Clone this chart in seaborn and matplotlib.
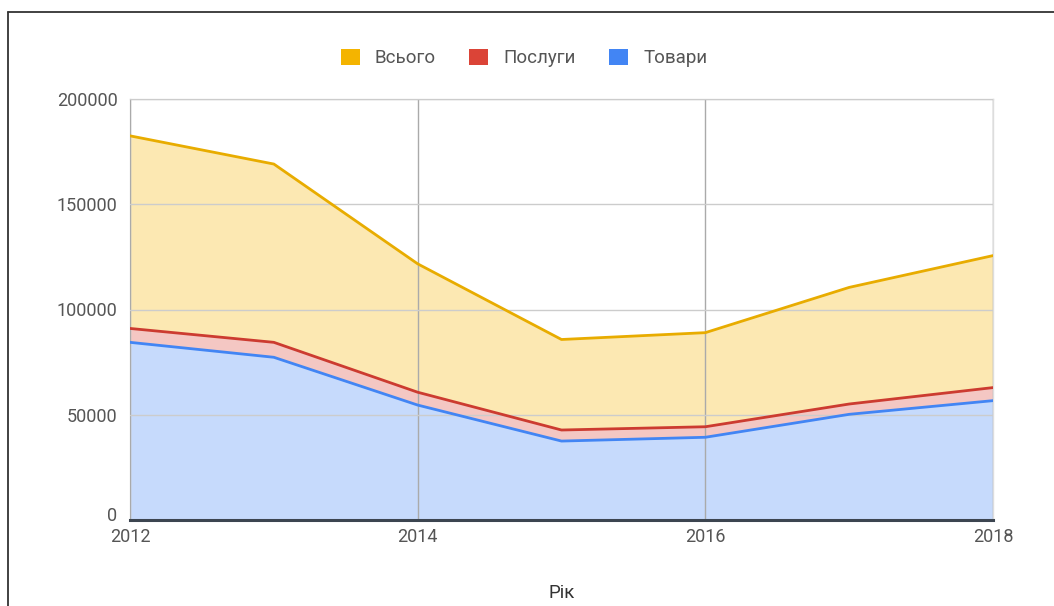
import matplotlib
matplotlib.use("Agg")
import matplotlib.pyplot as plt
import matplotlib.transforms as mtransforms
import seaborn as sns
import pandas as pd
from matplotlib.lines import Line2D
from matplotlib.patches import Patch

years = [2012, 2013, 2014, 2015, 2016, 2017, 2018]
tovary = [84400, 77300, 54600, 37500, 39300, 50200, 56700]
posluhy = [6600, 7100, 6100, 5250, 5000, 4900, 6200]
vsoho = [91500, 84700, 61000, 43000, 44700, 55400, 62700]
series_names = ["Всього", "Послуги", "Товари"]
x_ticks = [2012, 2014, 2016, 2018]
y_ticks = [0, 50000, 100000, 150000, 200000]

sns.set_theme(style="white")
plt.rcParams['font.family'] = ['Roboto', 'DejaVu Sans']

line_col = {"Товари": "#4285F4", "Послуги": "#DB4437", "Всього": "#F4B400"}
fill_col = {"Товари": "#C6DAFC", "Послуги": "#F4C7C3", "Всього": "#FCE8B2"}

df = pd.DataFrame({"Рік": years, "Товари": tovary, "Послуги": posluhy, "Всього": vsoho})
df["b1"] = df["Товари"]
df["b2"] = df["b1"] + df["Послуги"]
df["b3"] = df["b2"] + df["Всього"]

fig = plt.figure(figsize=(10.54, 6.06), dpi=100)
ax = fig.add_axes([130/1054, 1-520/606, 863/1054, 421/606])

ax.fill_between(df["Рік"], 0, df["b1"], color=fill_col["Товари"], lw=0, zorder=1)
ax.fill_between(df["Рік"], df["b1"], df["b2"], color=fill_col["Послуги"], lw=0, zorder=1)
ax.fill_between(df["Рік"], df["b2"], df["b3"], color=fill_col["Всього"], lw=0, zorder=1)

sns.lineplot(x="Рік", y="b1", data=df, color=line_col["Товари"], lw=2, ax=ax, zorder=3)
sns.lineplot(x="Рік", y="b2", data=df, color="#CC3B30", lw=2, ax=ax, zorder=3)
sns.lineplot(x="Рік", y="b3", data=df, color="#E8AC00", lw=2, ax=ax, zorder=3)

ax.set_xlim(2012, 2018)
ax.set_ylim(0, 200000)
ax.set_xticks(x_ticks)
ax.set_yticks(y_ticks)
ax.set_xticklabels([str(v) for v in x_ticks])
ax.set_yticklabels([str(v) for v in y_ticks])
ax.grid(axis="y", color="#cccccc", lw=1, zorder=2)
ax.grid(axis="x", color="#aaaaaa", lw=1, zorder=2)
ax.set_axisbelow(False)
for s in ["left", "right", "top"]:
    ax.spines[s].set_color("#dddddd")
    ax.spines[s].set_linewidth(1)
ax.spines["bottom"].set_color("#3c4550")
ax.spines["bottom"].set_linewidth(2.2)
ax.spines["bottom"].set_zorder(4)
ax.tick_params(axis="both", length=0, labelsize=13, labelcolor="#555555")
ax.tick_params(axis="y", pad=9)
ax.tick_params(axis="x", pad=6)
ylabels = ax.get_yticklabels()
ylabels[0].set_transform(ylabels[0].get_transform() +
                         mtransforms.ScaledTranslation(0, 4/72, fig.dpi_scale_trans))
ax.set_ylabel("")
ax.set_xlabel("Рік", fontsize=13.5, color="#333333", labelpad=27)

handles = [Patch(facecolor=line_col[n], edgecolor="none") for n in series_names]
fig.legend(handles, series_names, loc="center", bbox_to_anchor=(524/1054, 1-58/606),
           ncol=3, frameon=False, fontsize=13.5, handlelength=1.0, handleheight=1.0,
           columnspacing=1.8, handletextpad=0.8, labelcolor="#555555")

fig.add_artist(Line2D([8/1054, 8/1054], [0, 1-12/606], transform=fig.transFigure, color="#333333", lw=1.3))
fig.add_artist(Line2D([8/1054, 1], [1-12/606, 1-12/606], transform=fig.transFigure, color="#333333", lw=1.3))

fig.savefig("out.png", dpi=100, facecolor="white")
